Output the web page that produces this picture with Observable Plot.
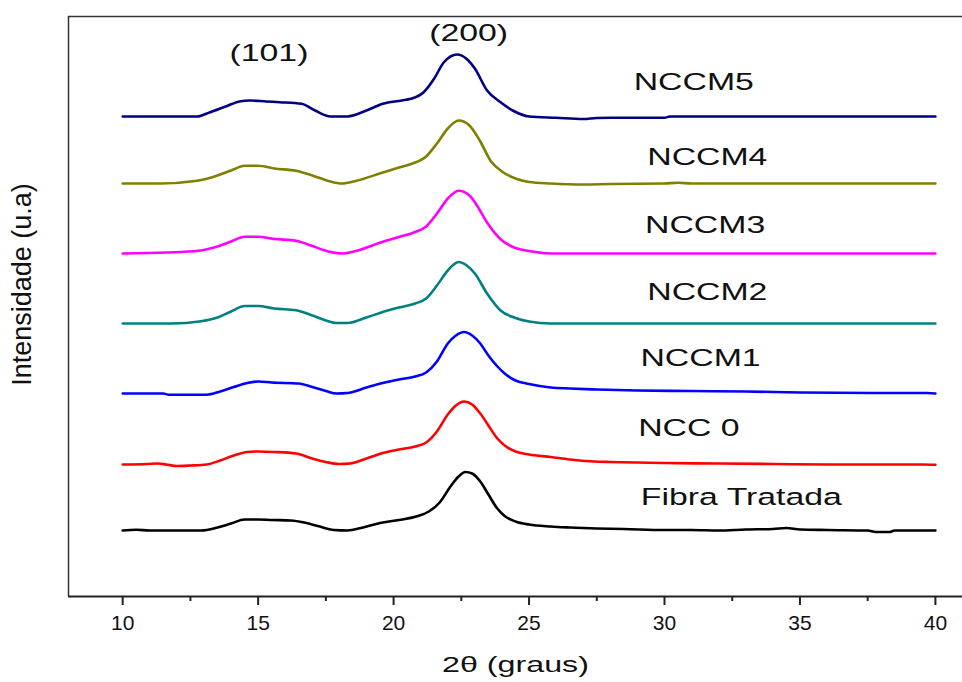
<!DOCTYPE html>
<html><head><meta charset="utf-8">
<script src="https://cdn.jsdelivr.net/npm/d3@7"></script>
<script src="https://cdn.jsdelivr.net/npm/@observablehq/plot@0.6"></script>
<style>html,body{margin:0;padding:0;background:#fff} svg{display:block}</style>
</head><body><div id="chart"></div>
<script>
// Series names and colours (top to bottom in the stack)
const seriesNames = ["NCCM5", "NCCM4", "NCCM3", "NCCM2", "NCCM1", "NCC 0", "Fibra Tratada"];
const seriesColors = ["#000080", "#808000", "#ff00ff", "#008080", "#0000ff", "#ff0000", "#000000"];

// [2θ (graus), intensidade (u.a, stacked as drawn)]
const nccm5 = [[10,480],[12.75,480],[13.2,484],[13.8,490],[14.35,495.3],[14.7,496],[15.3,495],[15.8,494.3],[16.6,492.7],[17.1,486],[17.67,480],[18.3,480],[19,486],[19.6,492.7],[20.3,496],[20.63,497.7],[21.1,504],[21.5,518],[21.85,534],[22.35,542],[22.7,537.6],[23,528],[23.45,506],[23.95,494.3],[24.4,486],[25,480],[26,478.7],[27,477.5],[27.5,478.5],[28,478.7],[30,478.7],[30.2,480],[35,480],[40,480]];
const nccm4 = [[10,413],[11.4,413],[12.75,415.7],[13.5,421],[14,426],[14.5,430.7],[15,430.7],[15.6,428],[16.4,425.7],[17,421],[17.6,415.5],[18.1,413],[18.6,415.5],[19.6,424],[20.2,429],[20.7,433],[21.2,440],[21.6,453],[22,468],[22.4,476],[22.8,471],[23.2,455],[23.6,435],[24,425],[24.5,418],[25,414.5],[25.8,413],[27,412],[28,412.5],[30,413],[30.5,413.7],[31,413],[35,413],[40,413]];
const nccm3 = [[10,343],[11.6,344],[12.8,345.7],[13.5,350],[14,355],[14.5,359.7],[15,359.7],[15.6,357.5],[16.4,355.7],[17,350.5],[17.6,345],[18.1,343],[18.6,345.5],[19.6,354.7],[20.2,359.5],[20.8,364.5],[21.2,370],[21.6,383],[22,398],[22.4,405.7],[22.8,401],[23.1,390],[23.45,374],[23.95,357.3],[24.5,348.5],[25,345.5],[25.8,343],[30,343],[35,343],[40,343]];
const nccm2 = [[10,273],[11.8,273],[12.9,275.3],[13.5,279],[14,285],[14.5,290.5],[15,290.5],[15.6,288],[16.4,286.3],[17,281],[17.5,276],[17.9,273.5],[18.3,273.5],[19,279],[19.6,284.5],[20.2,289],[20.8,293],[21.2,298],[21.6,311],[22,326],[22.4,334.5],[22.7,331],[23,323],[23.45,303],[23.95,286],[24.5,278.5],[25,275],[25.8,273],[27,273],[30,273],[35,273],[40,273]];
const nccm1 = [[10,203],[11.5,203],[11.7,201.7],[13.1,201.7],[13.6,205],[14.1,209.5],[14.6,213.5],[15,215],[15.5,214],[16.5,213],[17,209.5],[17.5,205.5],[17.9,203],[18.3,203.5],[19,209],[19.6,213.5],[20.2,217],[20.8,220],[21.2,224],[21.6,235],[22,253],[22.3,261],[22.6,264.5],[22.9,261],[23.2,253],[23.5,241],[23.8,231],[24.1,223],[24.5,216],[25,212.5],[25.8,209],[26.5,208],[27.5,207],[29,206],[31,205.5],[33,205],[35,204],[37.8,203.5],[39.7,203.5],[40,203]];
const ncc0 = [[10,132],[10.9,132.5],[11.3,133],[11.6,132],[12,130.5],[12.5,131],[13.1,132],[13.6,136],[14.1,141],[14.6,144.5],[15,145],[15.6,144.5],[16.4,143],[17,138],[17.5,134.5],[18,132.5],[18.4,133],[19,138],[19.6,143.5],[20.2,147],[20.8,150],[21.2,154],[21.6,165],[22,182],[22.3,191],[22.6,195],[22.9,192],[23.2,183],[23.5,171],[23.8,159],[24.1,151],[24.5,145],[25,142],[25.8,139.5],[26.5,137],[27.4,135],[28,134.5],[29,134],[30,133.5],[32,133],[34,132.5],[36,132],[38,132],[39.5,132],[40,131.7]];
const fibraTratada = [[10,66],[10.5,66.7],[11,66],[12,66],[12.9,66],[13.5,69],[14,73],[14.5,77],[15,77],[15.5,76.5],[16.2,76],[16.7,74],[17.2,70.5],[17.8,66.5],[18.3,66],[18.8,68.5],[19.5,73.5],[20.2,76.5],[20.9,80.5],[21.3,85],[21.7,94],[22.1,110],[22.4,120],[22.65,124.5],[22.9,123],[23.2,115],[23.5,102],[23.8,89],[24.1,80.5],[24.5,75],[25,72],[25.8,70],[26.5,69],[27.5,68],[28.5,67.5],[30,66.5],[31,66.5],[32,66],[33,67],[34,67.5],[34.5,68.5],[35,67],[36,66.5],[37.5,66],[37.8,64.5],[38.3,64.5],[38.5,66],[40,66]];
const seriesData = [nccm5, nccm4, nccm3, nccm2, nccm1, ncc0, fibraTratada];

// Curve labels and reflection labels, placed in data units
const labelTexts = ["(101)", "(200)", "NCCM5", "NCCM4", "NCCM3", "NCCM2", "NCCM1", "NCC 0", "Fibra Tratada"];
const labelX = [15.4, 22.77, 31.08, 31.58, 31.5, 31.58, 31.33, 30.9, 32.84];
const labelY = [543, 563, 514, 439, 371, 304, 238, 168, 99];

const xTicks = [10, 15, 20, 25, 30, 35, 40];
const xMinorTicks = [12.5, 17.5, 22.5, 27.5, 32.5, 37.5];

const rows = seriesData.flatMap((pts, i) => pts.map(([x, y]) => ({series: seriesNames[i], x, y})));
const labels = labelTexts.map((text, i) => ({text, x: labelX[i], y: labelY[i]}));

const chart = Plot.plot({
  width: 962, height: 682,
  marginLeft: 68, marginRight: 0, marginTop: 16, marginBottom: 86,
  x: {domain: [8, 41], label: null},
  y: {domain: [0, 580], axis: null, label: null},
  color: {domain: seriesNames, range: seriesColors},
  style: {fontFamily: "Arial, 'Liberation Sans', sans-serif", background: "#fff", color: "#111"},
  marks: [
    Plot.ruleY([580], {stroke: "#333", strokeWidth: 1.5}),
    Plot.ruleX([8], {stroke: "#333", strokeWidth: 1.5}),
    Plot.ruleY([0], {stroke: "#222", strokeWidth: 2}),
    Plot.axisX(xMinorTicks, {tickSize: 5, strokeWidth: 2, stroke: "#222", tickFormat: () => "", label: null}),
    Plot.axisX(xTicks, {tickSize: 9, tickPadding: 10, strokeWidth: 2, stroke: "#222", fontSize: 21, fill: "#111", label: null}),
    Plot.line(rows, {x: "x", y: "y", z: "series", stroke: "series", strokeWidth: 2.6, curve: "monotone-x"}),
    Plot.text(labels, {x: "x", y: "y", text: "text", fontSize: 24.5, fill: "#111", lineAnchor: "middle"}),
    Plot.text(["2θ (graus)"], {frameAnchor: "bottom", dy: 69, fontSize: 21.5, fill: "#111", textAnchor: "middle", lineAnchor: "middle"}),
    Plot.text(["Intensidade (u.a)"], {frameAnchor: "left", rotate: -90, dx: -46, dy: -22, fontSize: 27, fill: "#111", textAnchor: "middle", lineAnchor: "middle"})
  ]
});
document.getElementById("chart").append(chart);

// horizontal stretch of the label glyphs about their own centre, as in the original figure
const stretchFactors = new Map([...labelTexts.map(t => [t, 1.38]), ["2θ (graus)", 1.5]]);
const svgNS = "http://www.w3.org/2000/svg";
Array.from(chart.querySelectorAll("text")).forEach(t => {
  const f = stretchFactors.get(t.textContent);
  if (!f) return;
  const w = document.createElementNS(svgNS, "g");
  t.parentNode.insertBefore(w, t);
  w.appendChild(t);
  w.style.transformBox = "fill-box";
  w.style.transformOrigin = "center";
  w.style.transform = `scaleX(${f})`;
});
</script>
</body></html>
